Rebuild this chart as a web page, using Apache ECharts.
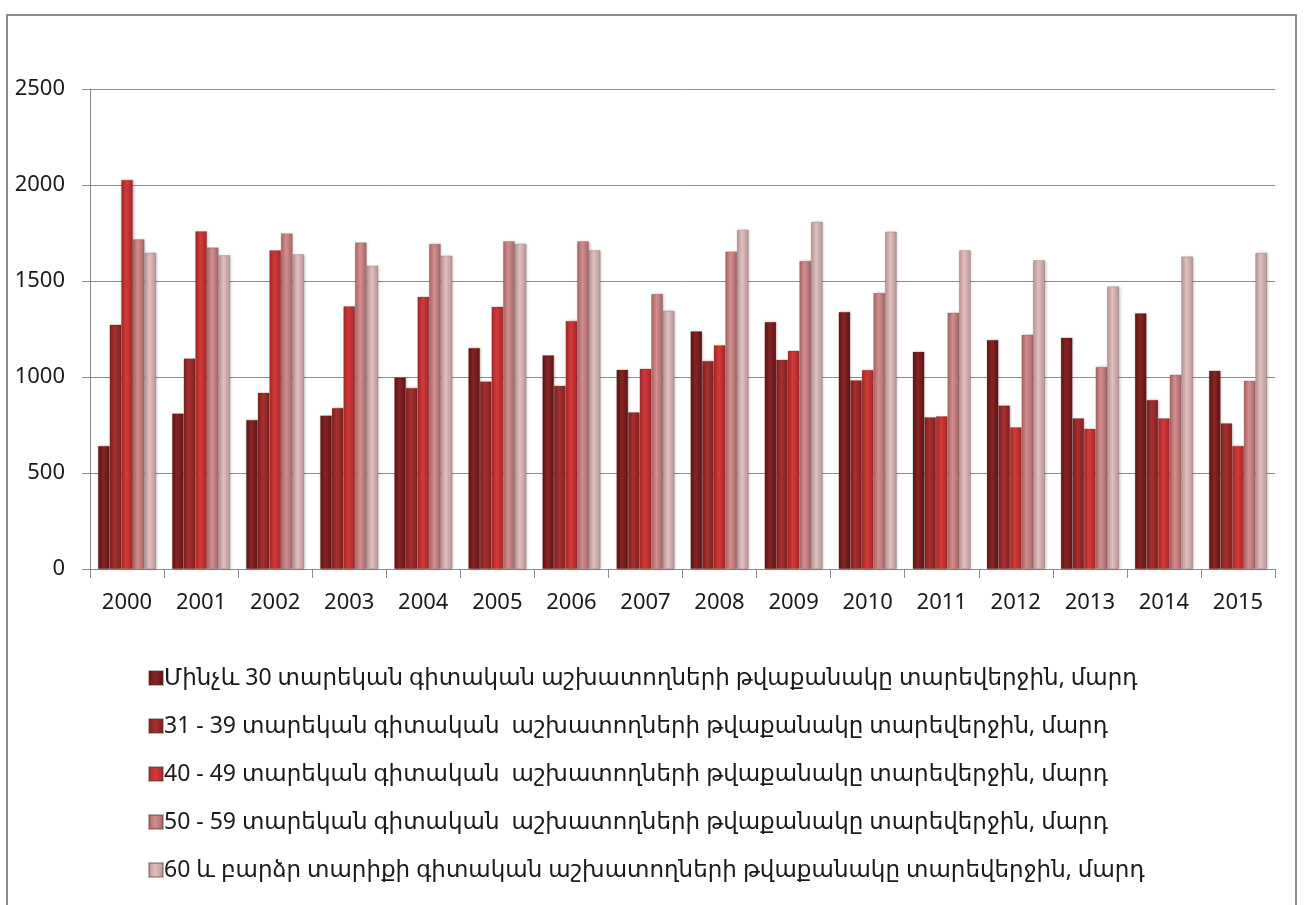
<!DOCTYPE html>
<html>
<head>
<meta charset="utf-8">
<script src="https://cdn.jsdelivr.net/npm/echarts@6/dist/echarts.min.js"></script>
<style>
  html, body { margin: 0; padding: 0; background: #fff; }
  #chart { width: 1304px; height: 905px; }
</style>
</head>
<body>
<div id="chart"></div>
<script>
// years on the x axis
const years = ['2000', '2001', '2002', '2003', '2004', '2005', '2006', '2007',
  '2008', '2009', '2010', '2011', '2012', '2013', '2014', '2015'];

const seriesNames = [
  'Մինչև 30 տարեկան գիտական աշխատողների թվաքանակը տարեվերջին, մարդ',
  '31 - 39 տարեկան գիտական  աշխատողների թվաքանակը տարեվերջին, մարդ',
  '40 - 49 տարեկան գիտական  աշխատողների թվաքանակը տարեվերջին, մարդ',
  '50 - 59 տարեկան գիտական  աշխատողների թվաքանակը տարեվերջին, մարդ',
  '60 և բարձր տարիքի գիտական աշխատողների թվաքանակը տարեվերջին, մարդ'
];

// values
const under30 = [640, 810, 776, 799, 998, 1151, 1113, 1038, 1238, 1286, 1339, 1132, 1193, 1205, 1332, 1033];
const age31to39 = [1272, 1097, 918, 839, 943, 977, 955, 816, 1083, 1090, 983, 790, 851, 785, 880, 759];
const age40to49 = [2026, 1759, 1660, 1368, 1418, 1366, 1292, 1043, 1165, 1137, 1036, 795, 738, 731, 785, 641];
const age50to59 = [1717, 1674, 1748, 1701, 1693, 1707, 1707, 1432, 1653, 1604, 1437, 1335, 1220, 1052, 1012, 981];
const age60plus = [1647, 1634, 1639, 1580, 1632, 1693, 1660, 1344, 1766, 1807, 1757, 1660, 1608, 1472, 1627, 1646];

const yTicks = [0, 500, 1000, 1500, 2000, 2500];

const allData = [under30, age31to39, age40to49, age50to59, age60plus];
// [edge, middle] colour of each bar
const barColors = [
  ['#5e1414', '#862424'],
  ['#7e1f1f', '#a83030'],
  ['#a62626', '#d23a3a'],
  ['#a86464', '#d18e8e'],
  ['#b99494', '#e0bfbf']
];

const font = "'Noto Sans', 'DejaVu Sans', sans-serif";

function barGradient (c) {
  return new echarts.graphic.LinearGradient(0, 0, 1, 0, [
    { offset: 0, color: c[0] },
    { offset: 0.45, color: c[1] },
    { offset: 1, color: c[0] }
  ]);
}

const chart = echarts.init(document.getElementById('chart'));

const option = {
  animation: false,
  textStyle: { fontFamily: font },
  graphic: [{
    type: 'rect',
    shape: { x: 7, y: 15, width: 1289, height: 900 },
    style: { fill: 'none', stroke: '#8c8c8c', lineWidth: 2 },
    silent: true
  }],
  grid: {
    left: 90,
    right: 29,
    top: 89,
    bottom: 336
  },
  legend: {
    orient: 'vertical',
    left: 143,
    top: 660,
    itemWidth: 14,
    itemHeight: 14,
    itemGap: 22,
    icon: 'rect',
    textStyle: {
      fontFamily: font,
      fontSize: 23,
      color: '#1a1a1a',
      lineHeight: 26,
      padding: [0, 0, 0, -4]
    },
    data: seriesNames
  },
  xAxis: {
    type: 'category',
    data: years,
    axisLine: { lineStyle: { color: '#8c8c8c', width: 1 } },
    axisTick: { show: true, length: 9, lineStyle: { color: '#8c8c8c' } },
    axisLabel: { fontSize: 22, color: '#1a1a1a', margin: 23, fontFamily: font }
  },
  yAxis: {
    type: 'value',
    min: 0,
    max: 2500,
    interval: 500,
    axisLine: { show: true, lineStyle: { color: '#8c8c8c' } },
    axisTick: { show: true, length: 8, lineStyle: { color: '#8c8c8c' } },
    splitLine: { lineStyle: { color: '#8c8c8c', width: 1 } },
    axisLabel: {
      fontSize: 22,
      color: '#1a1a1a',
      margin: 25,
      fontFamily: font,
      formatter: function (v) {
        return yTicks.indexOf(v) >= 0 ? String(v) : '';
      }
    }
  },
  series: allData.map(function (d, i) {
    return {
      name: seriesNames[i],
      type: 'bar',
      data: d,
      barWidth: 11.6,
      barGap: '0%',
      itemStyle: {
        color: barGradient(barColors[i]),
        borderColor: 'rgba(80,40,40,0.35)',
        borderWidth: 0.5,
        shadowColor: 'rgba(0,0,0,0.25)',
        shadowBlur: 3,
        shadowOffsetX: 1,
        shadowOffsetY: 0
      }
    };
  }),
  color: barColors.map(function (c) { return c[1]; })
};

chart.setOption(option);
</script>
</body>
</html>
